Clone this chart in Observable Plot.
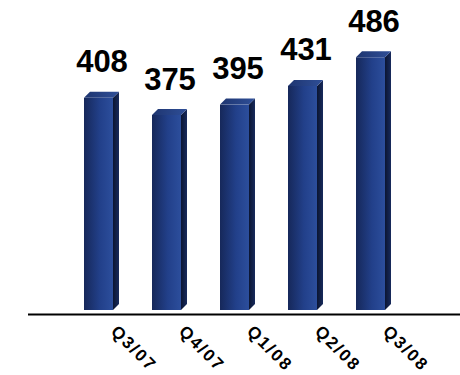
<!DOCTYPE html>
<html>
<head>
<meta charset="utf-8">
<script src="https://cdn.jsdelivr.net/npm/d3@7"></script>
<script src="https://cdn.jsdelivr.net/npm/@observablehq/plot@0.6"></script>
<style>
  html, body { margin: 0; padding: 0; background: #fff; }
  #chart svg { display: block; }
</style>
</head>
<body>
<div id="chart"></div>
<script>
const quarters = ["Q3/07", "Q4/07", "Q1/08", "Q2/08", "Q3/08"];
const values = [408, 375, 395, 431, 486];

const data = quarters.map((q, i) => ({quarter: q, value: values[i]}));
const DEPTH = 6;

// gradient definitions
function defs() {
  const d = d3.create("svg:defs");
  const f = d.append("linearGradient").attr("id", "frontGrad").attr("x1", 0).attr("x2", 1).attr("y1", 0).attr("y2", 0);
  f.append("stop").attr("offset", "0%").attr("stop-color", "#16285a");
  f.append("stop").attr("offset", "55%").attr("stop-color", "#22408a");
  f.append("stop").attr("offset", "100%").attr("stop-color", "#2c4e9c");
  const s = d.append("linearGradient").attr("id", "sideGrad").attr("x1", 0).attr("x2", 1).attr("y1", 0).attr("y2", 0);
  s.append("stop").attr("offset", "0%").attr("stop-color", "#0b1532");
  s.append("stop").attr("offset", "100%").attr("stop-color", "#172a5c");
  const t = d.append("linearGradient").attr("id", "topGrad").attr("x1", 0).attr("x2", 1).attr("y1", 0).attr("y2", 0);
  t.append("stop").attr("offset", "0%").attr("stop-color", "#1e3570");
  t.append("stop").attr("offset", "100%").attr("stop-color", "#2f4f98");
  return d.node();
}

// side and top faces of the 3D bars, positioned through Plot's scales
function faces(index, scales) {
  const g = d3.create("svg:g");
  const x = scales.x, y = scales.y;
  const bw = typeof x.bandwidth === "function" ? x.bandwidth() : 29;
  data.forEach(d => {
    const x0 = x(d.quarter), x1 = x0 + bw;
    const yt = y(d.value), yb = y(0);
    g.append("path")
      .attr("d", `M${x1},${yt}L${x1 + DEPTH},${yt - DEPTH}L${x1 + DEPTH},${yb - DEPTH}L${x1},${yb}Z`)
      .attr("fill", "url(#sideGrad)");
    g.append("path")
      .attr("d", `M${x0},${yt}L${x0 + DEPTH},${yt - DEPTH}L${x1 + DEPTH},${yt - DEPTH}L${x1},${yt}Z`)
      .attr("fill", "url(#topGrad)");
  });
  return g.node();
}

const chart = Plot.plot({
  width: 460,
  height: 375,
  marginLeft: 28,
  marginRight: 0,
  marginTop: 0,
  marginBottom: 65,
  style: {background: "#fff", fontFamily: "Liberation Sans, Arial, sans-serif"},
  x: {type: "band", domain: quarters, range: [82, 386], paddingInner: 0.58, paddingOuter: 0, axis: null},
  y: {domain: [0, 500], range: [310, 50], axis: null},
  marks: [
    defs,
    Plot.barY(data, {x: "quarter", y: "value", fill: "url(#frontGrad)"}),
    faces,
    Plot.ruleY([0], {dy: 4, stroke: "#000", strokeWidth: 2}),
    Plot.text(data, {
      x: "quarter", y: "value", text: d => String(d.value),
      dx: 3, dy: -26, lineAnchor: "bottom",
      fontSize: 31, fontWeight: "bold", fill: "#000"
    }),
    Plot.text(quarters, {
      x: d => d, frameAnchor: "bottom", text: d => d,
      rotate: 45, textAnchor: "start", dx: 11, dy: 22,
      fontSize: 17, fontWeight: "bold", fill: "#000"
    })
  ]
});
// letter spacing for the quarter labels
d3.select(chart).selectAll('g[aria-label="text"]')
  .filter((d, i) => i === 1)
  .attr("letter-spacing", "2px");
document.getElementById("chart").append(chart);
</script>
</body>
</html>
